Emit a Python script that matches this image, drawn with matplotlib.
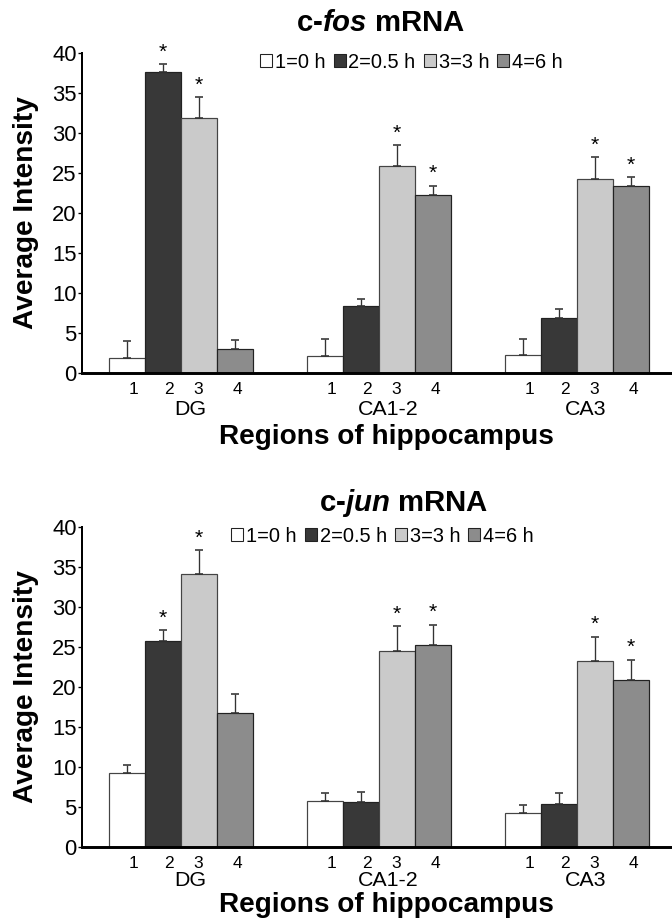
import matplotlib
matplotlib.use("Agg")
import matplotlib.pyplot as plt
from matplotlib.patches import Patch
import numpy as np

plt.rcParams['font.family'] = ['Liberation Sans', 'DejaVu Sans']
plt.rcParams['mathtext.fontset'] = 'custom'
plt.rcParams['mathtext.it'] = 'Liberation Sans:italic:bold'
plt.rcParams['mathtext.rm'] = 'Liberation Sans:bold'

regions = ["DG", "CA1-2", "CA3"]
times = ["1=0 h", "2=0.5 h", "3=3 h", "4=6 h"]
bar_labels = ["1", "2", "3", "4"]

# c-fos (rows = region, cols = time point)
fos_mean = [[1.9, 37.6, 31.9, 3.0],
            [2.1, 8.4, 25.9, 22.3],
            [2.3, 6.9, 24.3, 23.4]]
fos_err = [[2.05, 1.0, 2.6, 1.1],
           [2.2, 0.9, 2.6, 1.1],
           [2.0, 1.1, 2.7, 1.1]]
fos_sig = [[0, 1, 1, 0],
           [0, 0, 1, 1],
           [0, 0, 1, 1]]

# c-jun
jun_mean = [[9.2, 25.8, 34.1, 16.7],
            [5.8, 5.6, 24.5, 25.3],
            [4.3, 5.4, 23.3, 20.9]]
jun_err = [[1.0, 1.3, 3.0, 2.4],
           [0.9, 1.3, 3.1, 2.5],
           [1.0, 1.4, 3.0, 2.5]]
jun_sig = [[0, 1, 1, 0],
           [0, 0, 1, 1],
           [0, 0, 1, 1]]

colors = ["white", "#383838", "#cacaca", "#8c8c8c"]
edges = ["#444444", "#222222", "#444444", "#222222"]

W, H = 672, 918
fig = plt.figure(figsize=(W / 96, H / 96), dpi=96)

group_starts = np.array([0, 5.5, 11])
label_shift = np.array([0.18, 0.17, -0.03, 0.08])
px = 36.0  # pixels per bar width


def panel(y0, y40, mean, err, sig, title_it, title_x, title_dy, leg_x,
          xlab_base, grp_dy):
    ax = fig.add_axes([82 / W, 1 - y0 / H, 1 - 82 / W, (y0 - y40) / H])
    mean = np.array(mean)
    err = np.array(err)
    ticks = []
    for g, start in enumerate(group_starts):
        xs = start + np.arange(4) + 0.5
        for i in range(4):
            ax.bar(xs[i], mean[g, i], width=1.0, color=colors[i],
                   edgecolor=edges[i], linewidth=0.9, zorder=2)
        ax.errorbar(xs, mean[g], yerr=[np.zeros(4), err[g]], fmt='none',
                    ecolor='#333333', elinewidth=1.0, capsize=3, capthick=1.2,
                    zorder=3)
        for i in range(4):
            if sig[g][i]:
                ax.text(xs[i], mean[g, i] + err[g, i] + 1.5, '*', ha='center',
                        va='center', fontsize=16)
        ticks.extend(xs + label_shift)
        ax.text(start + 2.25, -grp_dy / 8, regions[g], ha='center',
                va='center', fontsize=16)
    ax.set_xticks(ticks)
    ax.set_xticklabels(bar_labels * 3, fontsize=13)
    ax.tick_params(axis='x', length=0, pad=7)
    ax.set_xlim(-27 / px, (672 - 109) / px)
    ax.set_ylim(0, 40)
    ax.set_yticks(np.arange(0, 41, 5))
    ax.tick_params(axis='y', direction='out', length=3, width=1, pad=1,
                   labelsize=16.5)
    for s in ['top', 'right']:
        ax.spines[s].set_visible(False)
    ax.spines['left'].set_linewidth(1.5)
    ax.spines['bottom'].set_linewidth(2.2)
    ax.patch.set_alpha(0)

    fig.text(26 / W, 1 - (y0 + y40) / 2 / H, "Average Intensity", rotation=90,
             ha='center', va='center', fontsize=21, fontweight='bold')
    fig.text(386 / W, 1 - xlab_base / H, "Regions of hippocampus",
             ha='center', va='baseline', fontsize=21, fontweight='bold')
    fig.text(title_x / W, 1 - (y40 + title_dy) / H,
             'c-' + r'$\it{' + title_it + '}$' + ' mRNA',
             ha='center', va='center', fontsize=22, fontweight='bold')

    handles = [Patch(facecolor=colors[i], edgecolor='#222222', linewidth=0.8)
               for i in range(4)]
    fig.legend(handles, times, loc='center left',
               bbox_to_anchor=(leg_x / W, 1 - (y40 + 9) / H), ncol=4,
               frameon=False, fontsize=15, handlelength=0.6, handleheight=0.6,
               handletextpad=0.15, columnspacing=0.4, borderpad=0,
               borderaxespad=0)
    return ax


panel(373, 53, fos_mean, fos_err, fos_sig, 'fos', 381, -30, 260, 444, 36.5)
panel(847, 527, jun_mean, jun_err, jun_sig, 'jun', 404, -24, 231, 912, 33.5)

fig.savefig("out.png", dpi=96)
